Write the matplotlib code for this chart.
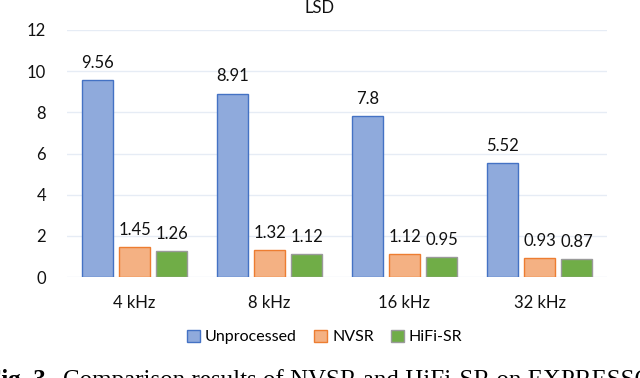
import matplotlib.pyplot as plt
import numpy as np

categories = ['4 kHz', '8 kHz', '16 kHz', '32 kHz']
unprocessed = [9.56, 8.91, 7.8, 5.52]
nvsr = [1.45, 1.32, 1.12, 0.93]
hifisr = [1.26, 1.12, 0.95, 0.87]
series_names = ['Unprocessed', 'NVSR', 'HiFi-SR']

plt.rcParams['font.family'] = ['Lato', 'DejaVu Sans']

fig = plt.figure(figsize=(6.4, 3.78), dpi=100)
ax = fig.add_axes([67/640, 1-277/378, 540/640, 247/378])

x = np.arange(len(categories))
w = 0.23
off = 0.275
styles = [('#8FAADC', '#4472C4'), ('#F4B183', '#ED7D31'), ('#70AD47', '#9A9A9A')]
for i, (vals, name) in enumerate(zip([unprocessed, nvsr, hifisr], series_names)):
    fc, ec = styles[i]
    bars = ax.bar(x + (i - 1) * off, vals, w, color=fc, edgecolor=ec, linewidth=1.0, label=name, zorder=3)
    for b, v in zip(bars, vals):
        ax.text(b.get_x() + b.get_width()/2, v + 0.45, f'{v:g}', ha='center', va='bottom',
                fontsize=12, color='#111111')

ax.set_xlim(-0.5, 3.5)
ax.set_ylim(0, 12)
ax.set_yticks(range(0, 13, 2))
ax.set_xticks(x)
ax.set_xticklabels(categories)
ax.tick_params(axis='both', length=0, labelsize=12, colors='#111111')
ax.tick_params(axis='y', pad=15)
ax.tick_params(axis='x', pad=13)
ax.grid(axis='y', color='#E6ECF5', linewidth=1.0, zorder=0)
for s in ax.spines.values():
    s.set_visible(False)

fig.text(0.5, 1 - 8/378, 'LSD', fontsize=12, ha='center', va='center', color='#111111')

handles, labels = ax.get_legend_handles_labels()
fig.legend(handles, labels, loc='center', bbox_to_anchor=(325/640, 1-337/378), ncol=3,
           frameon=False, fontsize=11.5, handlelength=0.8, handleheight=0.8,
           handletextpad=0.3, columnspacing=1.1)

fig.text(-0.022, -0.036, 'Fig. 3.', fontsize=18, fontweight='bold', family='Liberation Serif', va='bottom')
fig.text(0.098, -0.036, 'Comparison results of NVSR and HiFi-SR on EXPRESSO',
         fontsize=18, family='Liberation Serif', va='bottom')

fig.savefig('out.png', dpi=100)
